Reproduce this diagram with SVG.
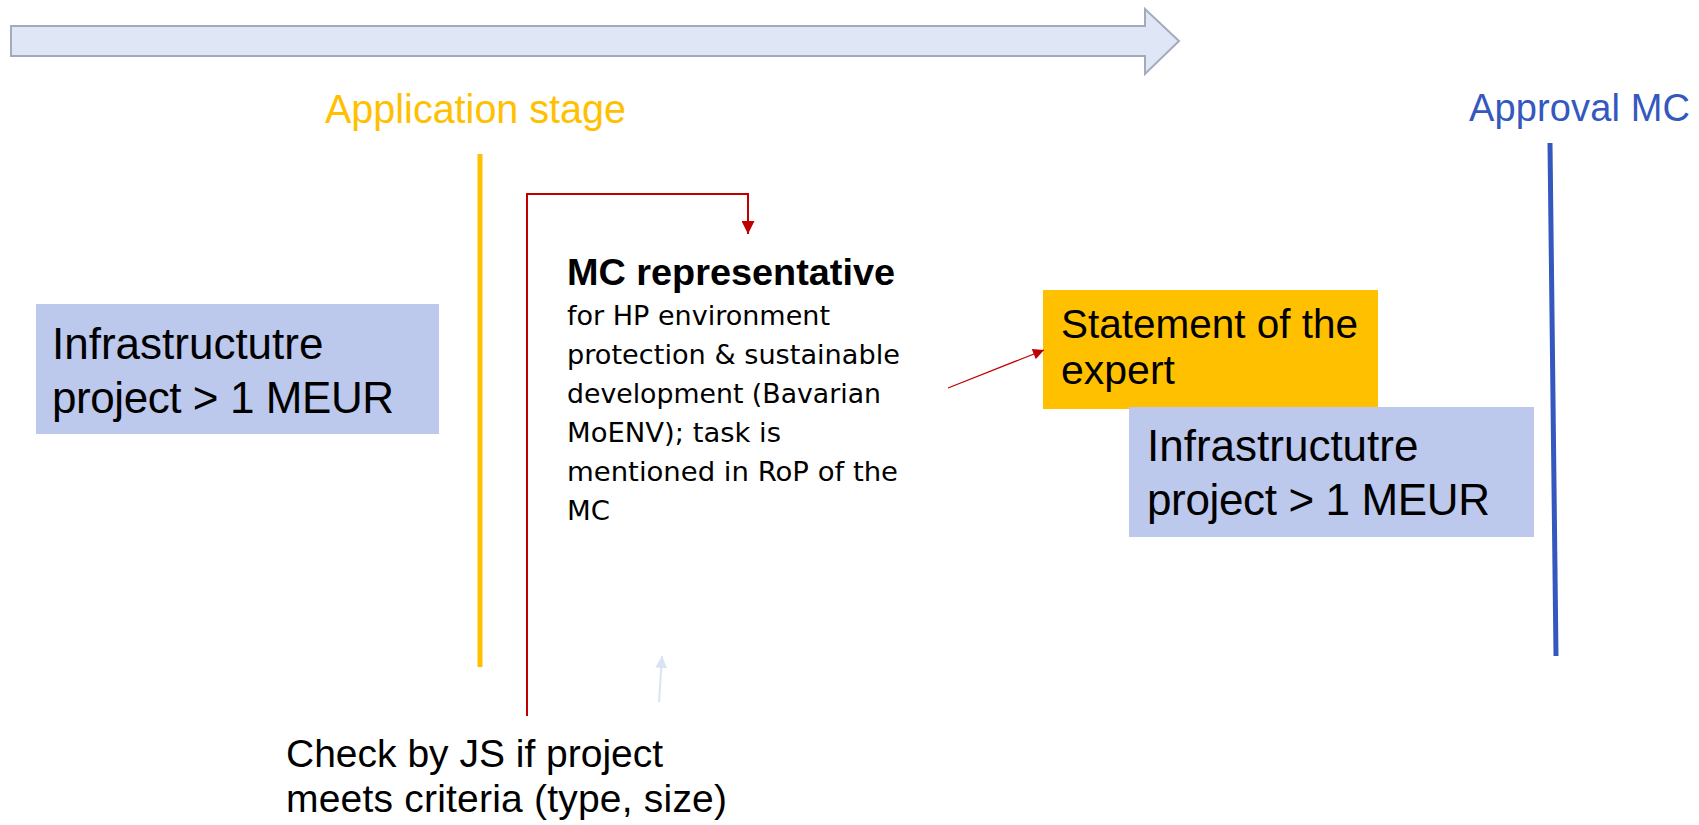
<svg xmlns="http://www.w3.org/2000/svg" width="1699" height="825" viewBox="0 0 1699 825">
<style>
.sans{font-family:"Liberation Sans",Arial,sans-serif;fill:#000}
.body{font-family:"DejaVu Sans","Liberation Sans",sans-serif;font-size:27px;fill:#000}
.box{fill:#BCC8EC}
</style>
<defs>
<marker id="hRed" viewBox="0 0 10 10" refX="10" refY="5" markerWidth="13" markerHeight="13" markerUnits="userSpaceOnUse" orient="auto"><path d="M0,0 L10,5 L0,10 z" fill="#C00000"/></marker>
<marker id="hRedS" viewBox="0 0 10 10" refX="10" refY="5" markerWidth="12" markerHeight="11" markerUnits="userSpaceOnUse" orient="auto"><path d="M0,0 L10,5 L0,10 z" fill="#C00000"/></marker>
<marker id="hFaint" viewBox="0 0 10 10" refX="10" refY="5" markerWidth="13" markerHeight="12" markerUnits="userSpaceOnUse" orient="auto"><path d="M0,0 L10,5 L0,10 z" fill="#DAE3F3"/></marker>
</defs>
<rect width="1699" height="825" fill="#fff"/>
<g id="timeline">
<path d="M11,26 H1145 V9 L1179,41 L1145,74 V56 H11 Z" fill="#DFE6F6" stroke="#A5A9BC" stroke-width="2"/>
</g>
<g id="application-stage">
<text x="325" y="123" font-family="Liberation Sans, Arial, sans-serif" font-size="40" fill="#FFC000" textLength="301" lengthAdjust="spacingAndGlyphs">Application stage</text>
<line x1="480" y1="154" x2="480" y2="667" stroke="#FFC000" stroke-width="5"/>
</g>
<g id="approval-mc">
<text x="1469" y="121" font-family="Liberation Sans, Arial, sans-serif" font-size="38" fill="#3458BE" textLength="221">Approval MC</text>
<line x1="1550" y1="143" x2="1556" y2="656" stroke="#3458BE" stroke-width="5"/>
</g>
<g id="project-left">
<rect class="box" x="36" y="304" width="403" height="130"/>
<text class="sans" x="52" y="359" font-size="44">Infrastructutre</text>
<text class="sans" x="52" y="413" font-size="44" textLength="342">project &gt; 1 MEUR</text>
</g>
<g id="mc-representative">
<text class="sans" x="567" y="285" font-size="36" font-weight="bold" textLength="328" lengthAdjust="spacingAndGlyphs">MC representative</text>
<text class="body" x="567" y="325" textLength="263" lengthAdjust="spacingAndGlyphs">for HP environment</text>
<text class="body" x="567" y="364" textLength="333" lengthAdjust="spacingAndGlyphs">protection &amp; sustainable</text>
<text class="body" x="567" y="403" textLength="314" lengthAdjust="spacingAndGlyphs">development (Bavarian</text>
<text class="body" x="567" y="442" textLength="214" lengthAdjust="spacingAndGlyphs">MoENV); task is</text>
<text class="body" x="567" y="481" textLength="331" lengthAdjust="spacingAndGlyphs">mentioned in RoP of the</text>
<text class="body" x="567" y="520" textLength="43" lengthAdjust="spacingAndGlyphs">MC</text>
</g>
<g id="statement-expert">
<rect x="1043" y="290" width="335" height="119" fill="#FFC000"/>
<text class="sans" x="1061" y="338" font-size="41" textLength="297" lengthAdjust="spacingAndGlyphs">Statement of the</text>
<text class="sans" x="1061" y="384" font-size="41">expert</text>
</g>
<g id="project-right">
<rect class="box" x="1129" y="407" width="405" height="130"/>
<text class="sans" x="1147" y="461" font-size="44">Infrastructutre</text>
<text class="sans" x="1147" y="515" font-size="44" textLength="343">project &gt; 1 MEUR</text>
</g>
<g id="check-js">
<text class="sans" x="286" y="767" font-size="39">Check by JS if project</text>
<text class="sans" x="286" y="812" font-size="39" textLength="441">meets criteria (type, size)</text>
</g>
<g id="connectors" fill="none">
<path d="M527,716 V194 H748 V234" stroke="#C00000" stroke-width="2" marker-end="url(#hRed)"/>
<line x1="948" y1="388" x2="1044" y2="350" stroke="#C00000" stroke-width="1.3" marker-end="url(#hRedS)"/>
<line x1="659" y1="702" x2="662" y2="656" stroke="#DAE3F3" stroke-width="2" marker-end="url(#hFaint)"/>
</g>
</svg>
